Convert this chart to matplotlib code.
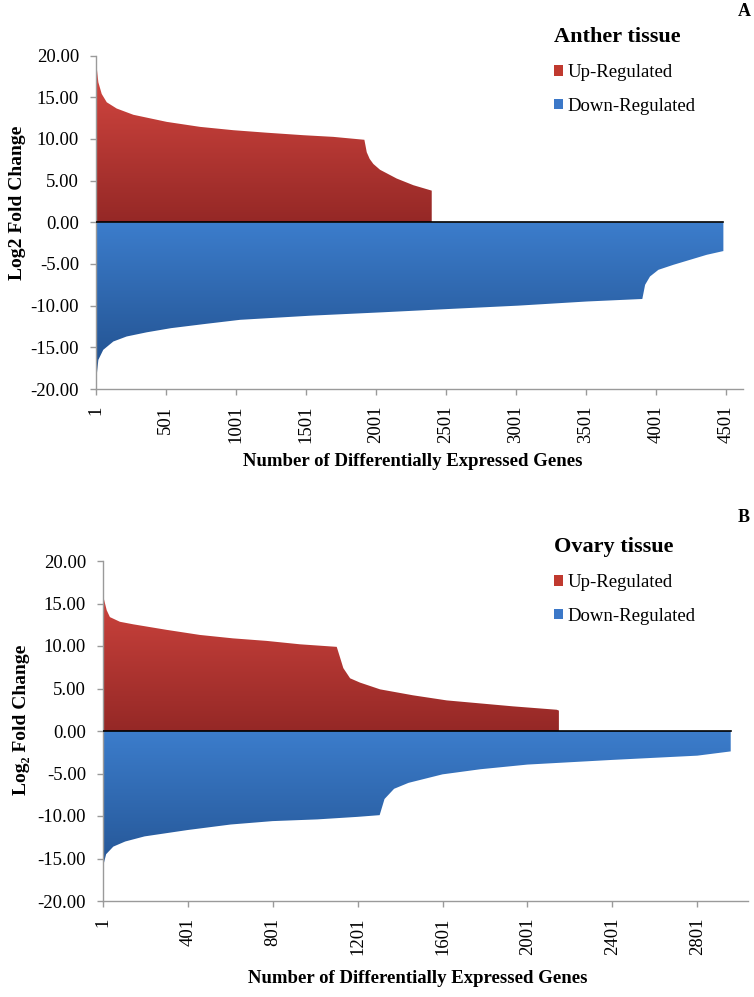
import numpy as np
import matplotlib.pyplot as plt
from matplotlib.patches import Patch, PathPatch
from matplotlib.colors import LinearSegmentedColormap

plt.rcParams['font.family'] = ['Liberation Serif', 'DejaVu Serif']

# ---- panel A : anther tissue (gene rank, log2 fold change) ----
a_up_gene = [1, 20, 44, 80, 151, 270, 508, 746, 984, 1222, 1484, 1698, 1920,
             1928, 1937, 1958, 1984, 2032, 2151, 2270, 2401]
a_up_fc = [19.7, 16.8, 15.4, 14.4, 13.65, 12.9, 12.05, 11.45, 11.05, 10.75, 10.45, 10.25, 9.9,
           9.2, 8.4, 7.6, 7.0, 6.3, 5.25, 4.45, 3.8]
a_dn_gene = [1, 20, 55, 127, 222, 365, 539, 780, 1032, 1539, 2046, 2524, 3017, 3510, 3905,
             3925, 3960, 4020, 4127, 4246, 4365, 4484]
a_dn_fc = [-19.5, -16.5, -15.3, -14.3, -13.7, -13.2, -12.7, -12.2, -11.7, -11.2, -10.8, -10.4, -10.0, -9.5, -9.2,
           -7.5, -6.5, -5.7, -5.1, -4.5, -3.9, -3.45]
a_ticks = [1, 501, 1001, 1501, 2001, 2501, 3001, 3501, 4001, 4501]

# ---- panel B : ovary tissue ----
b_up_gene = [1, 4, 20, 35, 82, 145, 302, 459, 614, 773, 930, 1103, 1118, 1134, 1166,
             1212, 1307, 1462, 1621, 1777, 1933, 2139, 2149]
b_up_fc = [16.0, 15.8, 14.2, 13.4, 12.85, 12.55, 11.9, 11.3, 10.9, 10.6, 10.2, 9.9, 8.7, 7.4, 6.2,
           5.7, 4.9, 4.2, 3.6, 3.25, 2.9, 2.5, 2.4]
b_dn_gene = [1, 5, 17, 51, 107, 198, 401, 604, 801, 1011, 1201, 1305, 1328, 1373, 1441,
             1601, 1779, 2001, 2401, 2801, 2958]
b_dn_fc = [-16.0, -15.7, -14.5, -13.6, -13.0, -12.4, -11.65, -11.0, -10.6, -10.4, -10.1, -9.9, -8.0, -6.8, -6.1,
           -5.1, -4.5, -3.95, -3.4, -2.9, -2.4]
b_ticks = [1, 401, 801, 1201, 1601, 2001, 2401, 2801]

y_ticks = [-20, -15, -10, -5, 0, 5, 10, 15, 20]

W, H = 754, 997
fig = plt.figure(figsize=(W / 100, H / 100), dpi=100)


def box(l, t, r, b):
    return [l / W, 1 - b / H, (r - l) / W, (b - t) / H]


def grad_area(ax, x, y, c_near, c_far, lim):
    coll = ax.fill_between(x, 0, y, facecolor='none', edgecolor='none')
    patch = PathPatch(coll.get_paths()[0], facecolor='none', edgecolor='none',
                      transform=ax.transData)
    ax.add_patch(patch)
    cmap = LinearSegmentedColormap.from_list('g', [c_near, c_far])
    grad = np.linspace(0, 1, 256).reshape(-1, 1)
    im = ax.imshow(grad, cmap=cmap, aspect='auto', origin='lower',
                   extent=[x[0], x[-1], 0, lim], interpolation='bilinear', zorder=2)
    im.set_clip_path(patch)


def panel(ax, up_g, up_v, dn_g, dn_v, ticks, xmax, ylab, title, letter, leg_xy, letter_xy,
          xlab_xy, ylab_xy):
    grad_area(ax, up_g, up_v, '#952826', '#DA4A43', 20)
    grad_area(ax, dn_g, dn_v, '#3C7DCC', '#1F4C88', -20)
    ax.plot([dn_g[0], dn_g[-1]], [0, 0], color='black', lw=1.2, zorder=3)
    ax.set_xlim(1, xmax)
    ax.set_ylim(-20, 20)
    ax.set_yticks(y_ticks)
    ax.set_yticklabels(['%.2f' % v for v in y_ticks])
    ax.set_xticks(ticks)
    ax.set_xticklabels([str(t) for t in ticks], rotation=90)
    for s in ['top', 'right']:
        ax.spines[s].set_visible(False)
    for s in ['left', 'bottom']:
        ax.spines[s].set_color('#9A9A9A')
        ax.spines[s].set_linewidth(1.0)
    ax.tick_params(axis='both', colors='#9A9A9A', labelcolor='black', labelsize=13.5,
                   length=4, width=1.0)
    ax.tick_params(axis='y', pad=8)
    ax.tick_params(axis='x', pad=8)
    fig.text(xlab_xy[0] / W, 1 - xlab_xy[1] / H,
             'Number of Differentially Expressed Genes',
             ha='center', va='center', fontsize=13.5, fontweight='bold')
    fig.text(ylab_xy[0] / W, 1 - ylab_xy[1] / H, ylab, rotation=90,
             ha='center', va='center', fontsize=14, fontweight='bold')
    fig.text(letter_xy[0] / W, 1 - letter_xy[1] / H, letter, ha='center', va='center',
             fontsize=13, fontweight='bold')
    handles = [Patch(facecolor='#C0392F', label='Up-Regulated'),
               Patch(facecolor='#3C78C8', label='Down-Regulated')]
    leg = ax.legend(handles=handles, title=title, loc='upper left',
                    bbox_to_anchor=(leg_xy[0] / W, 1 - leg_xy[1] / H),
                    bbox_transform=fig.transFigure, frameon=False, fontsize=13.5,
                    title_fontproperties={'weight': 'bold', 'size': 16},
                    handlelength=0.5, handleheight=0.5, handletextpad=0.2,
                    labelspacing=0.9, borderpad=0, borderaxespad=0)
    leg._legend_box.align = 'left'


axA = fig.add_axes(box(95.7, 55.6, 742.7, 389))
panel(axA, a_up_gene, a_up_fc, a_dn_gene, a_dn_fc, a_ticks, 4622,
      'Log2 Fold Change', 'Anther tissue', 'A', (554, 27), (744, 12), (413, 461), (18, 203))

axB = fig.add_axes(box(102.7, 561, 747.7, 901))
panel(axB, b_up_gene, b_up_fc, b_dn_gene, b_dn_fc, b_ticks, 3038,
      'Log\u2082 Fold Change', 'Ovary tissue', 'B', (554, 537), (744, 518), (418, 978), (22, 720))

fig.savefig('out.png', dpi=100)
